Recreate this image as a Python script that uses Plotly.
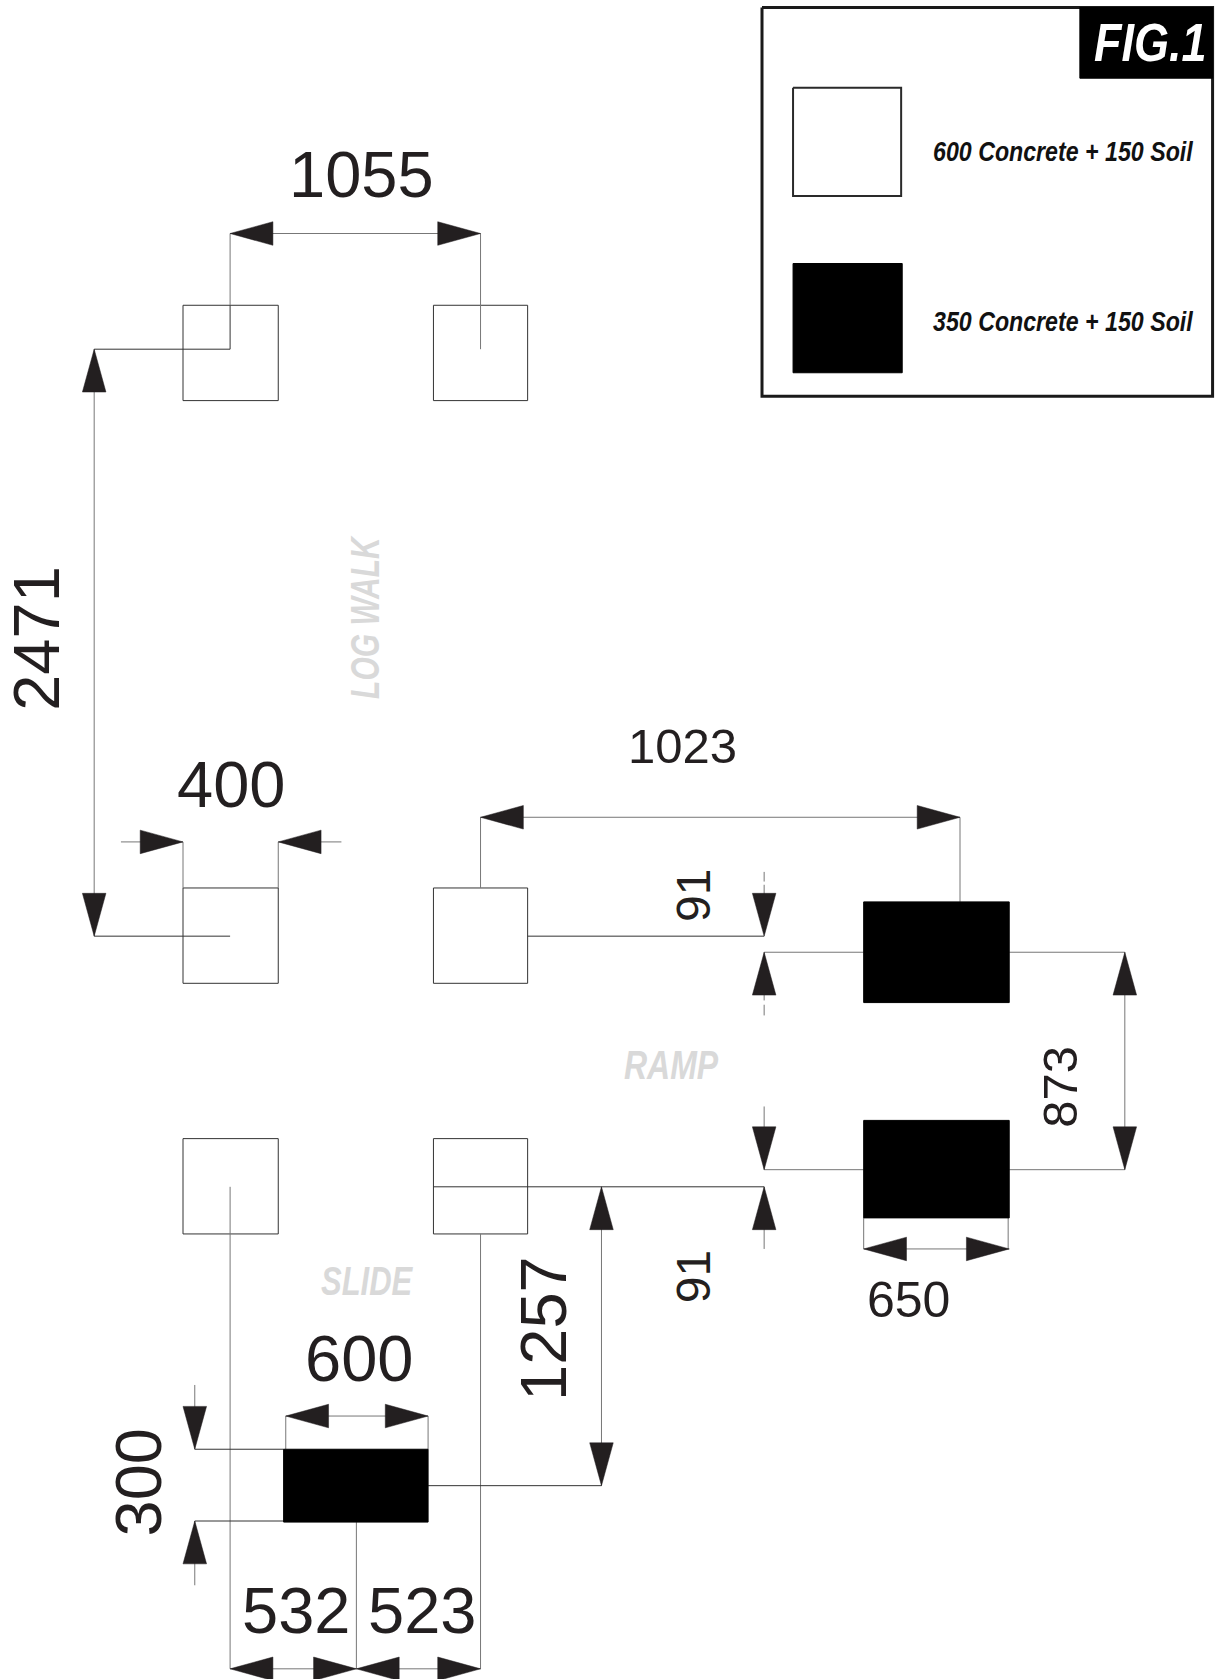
import json
import plotly.graph_objects as go

# Drawing units: y runs downward.
SHEET_W = 1139
SHEET_H = 1567.5
PAGE_W = 1219
PAGE_H = 1679

open_pads = [(171, 285, 260, 374), (405, 285, 493, 374), (171, 829, 260, 918),
             (405, 829, 493, 918), (171, 1063, 260, 1152), (405, 1063, 493, 1152)]
solid_pads = [(807, 842, 943, 936), (807, 1046, 943, 1137), (265, 1353, 400, 1421)]

legend_frame = (712, 7, 1133, 370)
legend_header = (1009, 7, 1133, 73)
legend_open = (741, 82, 842, 183)
legend_solid = (741, 246, 843, 348)

# Dimension and extension lines: (x0, y0, x1, y1)
thin_lines = [
    (215, 218, 449, 218), (215, 218, 215, 285), (449, 218, 449, 326),
    (88, 326, 88, 874),
    (113, 786, 171, 786), (260, 786, 319, 786), (171, 786, 171, 829), (260, 786, 260, 829),
    (449, 763, 897, 763), (449, 763, 449, 829), (897, 763, 897, 842),
    (714, 814, 714, 823), (714, 826, 714, 836), (714, 889, 807, 889),
    (714, 889, 714, 934), (714, 938, 714, 948),
    (943, 889, 1051, 889), (943, 1092, 1051, 1092), (1051, 889, 1051, 1092),
    (714, 1092, 807, 1092), (714, 1033, 714, 1092),
    (714, 1108, 714, 1166),
    (562, 1108, 562, 1387),
    (807, 1166, 943, 1166), (807, 1137, 807, 1166), (942, 1137, 942, 1166),
    (267, 1322, 400, 1322), (267, 1322, 267, 1353), (400, 1322, 400, 1353),
    (182, 1293, 182, 1353), (182, 1420, 182, 1480),
    (215, 1108, 215, 1558), (449, 1152, 449, 1558), (333, 1421, 333, 1558), (215, 1558, 449, 1558),
]
dark_lines = [
    (215, 285, 215, 326), (88, 326, 215, 326), (88, 874, 215, 874),
    (493, 874, 714, 874), (405, 1108, 714, 1108),
    (182, 1353, 265, 1353), (182, 1420, 265, 1420), (400, 1387, 562, 1387),
]

# Arrowheads: (tip x, tip y, pointing direction)
arrow_tips = [
    (215, 218, "left"), (449, 218, "right"),
    (88, 326, "up"), (88, 874, "down"),
    (171, 786, "right"), (260, 786, "left"),
    (449, 763, "left"), (897, 763, "right"),
    (714, 874, "down"), (714, 889, "up"), (714, 1092, "down"), (714, 1108, "up"),
    (1051, 889, "up"), (1051, 1092, "down"),
    (807, 1166, "left"), (943, 1166, "right"),
    (562, 1108, "up"), (562, 1387, "down"),
    (267, 1322, "left"), (400, 1322, "right"),
    (182, 1353, "down"), (182, 1420, "up"),
    (215, 1558, "left"), (333, 1558, "right"), (333, 1558, "left"), (449, 1558, "right"),
]
ARROW_LEN = 40
ARROW_HALF = 11

# Labels: (text, x, y, angle, size)
big_labels = [
    ("1055", 338, 163, 0, 65), ("2471", 34, 596, -90, 65), ("400", 216, 732, 0, 65),
    ("1023", 638, 696, 0, 49), ("91", 648, 836, -90, 48), ("91", 648, 1192, -90, 48),
    ("873", 991, 1015, -90, 49), ("650", 849, 1214, 0, 50), ("600", 335, 1268, 0, 65),
    ("1257", 508, 1240, -90, 65), ("300", 129, 1384, -90, 65), ("532", 277, 1504, 0, 65),
    ("523", 394, 1504, 0, 65),
]
# Condensed labels: (text, x, y, angle, size, letter-height stretch)
area_labels = [("LOG WALK", 341, 576, -90, 30, 1.37), ("RAMP", 627, 994, 0, 32, 1.28), ("SLIDE", 343, 1196, 0, 31, 1.32)]
legend_labels = [("600 Concrete + 150 Soil", 993, 141, 23.2, 1.2), ("350 Concrete + 150 Soil", 993, 300, 23.2, 1.2)]
fig_label = ("FIG.1", 1075, 40, 45, 1.2)

INK = "#231f20"
SANS = "Liberation Sans"


def rect_path(rects):
    xs, ys = [], []
    for x0, y0, x1, y1 in rects:
        xs += [x0, x1, x1, x0, x0, None]
        ys += [y0, y0, y1, y1, y0, None]
    return xs, ys


def seg_path(segs):
    xs, ys = [], []
    for x0, y0, x1, y1 in segs:
        xs += [x0, x1, None]
        ys += [y0, y1, None]
    return xs, ys


def arrow_path(tips):
    xs, ys = [], []
    back = {"left": (1, 0), "right": (-1, 0), "up": (0, 1), "down": (0, -1)}
    for x, y, d in tips:
        bx, by = back[d]
        cx, cy = x + bx * ARROW_LEN, y + by * ARROW_LEN
        px, py = by * ARROW_HALF, bx * ARROW_HALF
        xs += [x, cx + px, cx - px, x, None]
        ys += [y, cy + py, cy - py, y, None]
    return xs, ys


fig = go.Figure()


def add_rects(rects, fill, line, width):
    xs, ys = rect_path(rects)
    fig.add_trace(go.Scatter(x=xs, y=ys, mode="lines", fill="toself", fillcolor=fill,
                             line=dict(color=line, width=width), hoverinfo="skip"))


add_rects([legend_frame], "white", "#1a1a1a", 3)
add_rects([legend_header], "black", "black", 1)
add_rects([legend_open], "white", "#2a2a2a", 2)
add_rects([legend_solid], "black", "black", 1)
add_rects(open_pads, "white", "#333333", 1)

xs, ys = seg_path(thin_lines)
fig.add_trace(go.Scatter(x=xs, y=ys, mode="lines", line=dict(color="#777777", width=1), hoverinfo="skip"))
xs, ys = seg_path(dark_lines)
fig.add_trace(go.Scatter(x=xs, y=ys, mode="lines", line=dict(color="#333333", width=1), hoverinfo="skip"))

add_rects(solid_pads, "black", "black", 1)

xs, ys = arrow_path(arrow_tips)
fig.add_trace(go.Scatter(x=xs, y=ys, mode="lines", fill="toself", fillcolor=INK,
                         line=dict(color=INK, width=0.5), hoverinfo="skip"))

for text, x, y, angle, size in big_labels:
    fig.add_annotation(x=x, y=y, text=text, textangle=angle, showarrow=False,
                       font=dict(family=SANS, size=size, color=INK))
for text, x, y, angle, size, _ in area_labels:
    fig.add_annotation(x=x, y=y, text=text, textangle=angle, showarrow=False,
                       font=dict(family=SANS, size=size, color="#d9d9d9", weight="bold", style="italic"))
for text, x, y, size, _ in legend_labels:
    fig.add_annotation(x=x, y=y, text=text, showarrow=False,
                       font=dict(family=SANS, size=size, color="#111111", weight="bold", style="italic"))
fig.add_annotation(x=fig_label[1], y=fig_label[2], text=fig_label[0], showarrow=False,
                   font=dict(family=SANS, size=fig_label[3], color="white", weight="bold", style="italic"))

fig.update_layout(
    width=PAGE_W, height=PAGE_H, margin=dict(l=0, r=0, t=0, b=0),
    paper_bgcolor="white", plot_bgcolor="white", showlegend=False,
    xaxis=dict(range=[0, SHEET_W], visible=False, fixedrange=True),
    yaxis=dict(range=[SHEET_H, 0], visible=False, fixedrange=True),
)

# The source lettering is a condensed face: heighten these runs about their own middle.
stretches = {t[0]: t[-1] for t in area_labels + legend_labels + [fig_label]}
finish = (
    "document.body.style.margin='0';document.body.style.overflow='hidden';"
    "var k=" + json.dumps(stretches) + ";"
    "document.querySelectorAll('.annotation-text').forEach(function(t){"
    "var s=k[t.textContent];"
    "if(s){var b=t.getBBox(),c=b.y+b.height/2;"
    "t.setAttribute('transform','translate(0,'+c+') scale(1,'+s+') translate(0,'+(-c)+')');}"
    "});"
)
fig.write_html("out.html", config={"displayModeBar": False}, post_script=finish)
